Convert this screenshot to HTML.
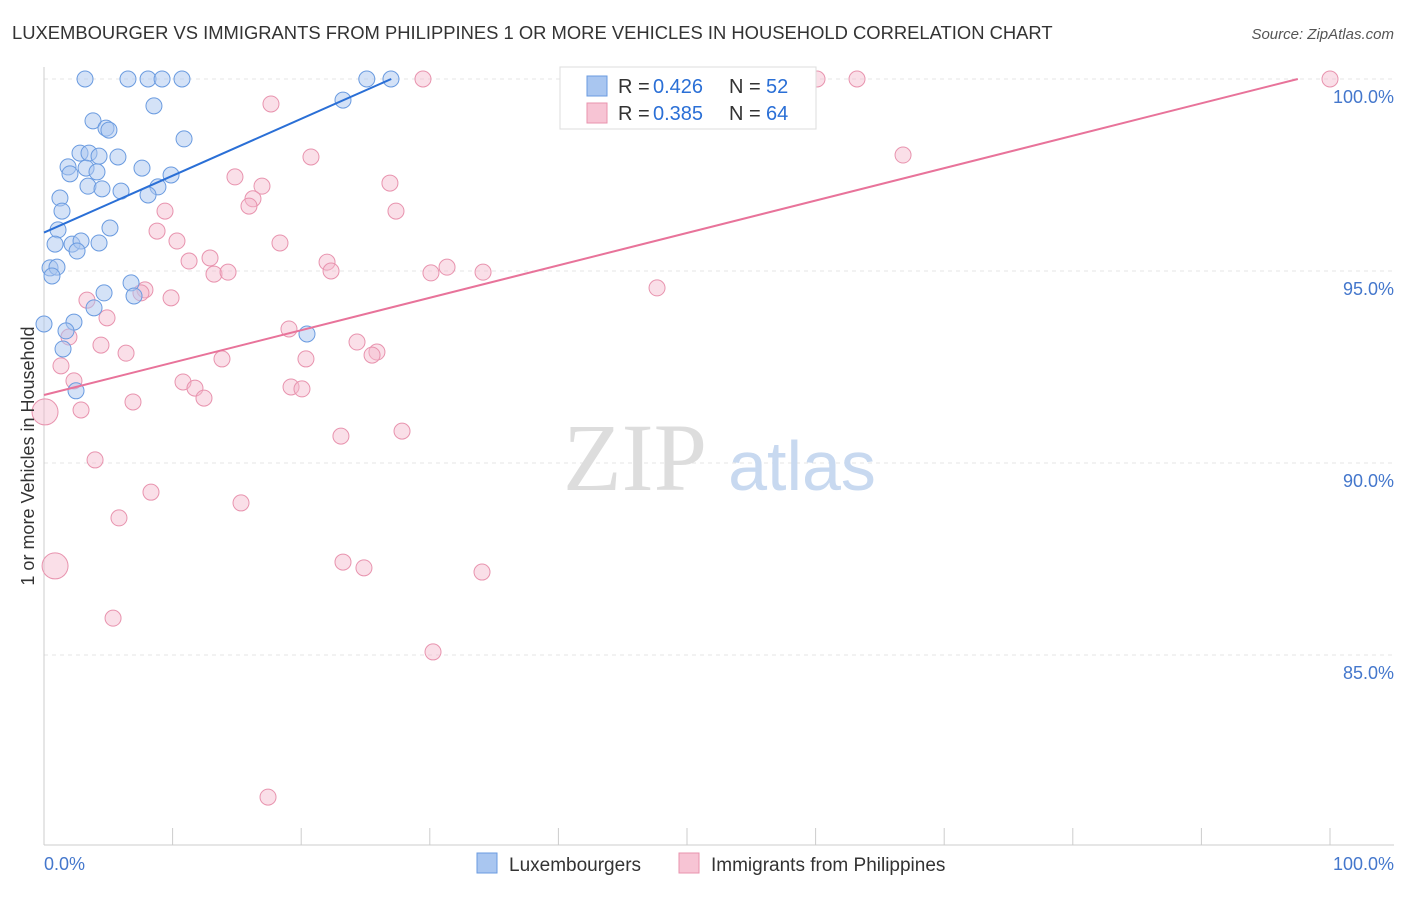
<!DOCTYPE html>
<html><head><meta charset="utf-8"><style>
body{margin:0;background:#fff;font-family:"Liberation Sans",sans-serif}
</style></head><body>
<svg width="1406" height="892" xmlns="http://www.w3.org/2000/svg" font-family="Liberation Sans, sans-serif">
<text x="12" y="39" font-size="18.4" fill="#333">LUXEMBOURGER VS IMMIGRANTS FROM PHILIPPINES 1 OR MORE VEHICLES IN HOUSEHOLD CORRELATION CHART</text>
<text x="1394" y="39" font-size="15" fill="#555" font-style="italic" text-anchor="end">Source: ZipAtlas.com</text>
<g id="grid"></g>
<text x="635" y="490" font-size="96" fill="#ddd" font-family="Liberation Serif, serif" text-anchor="middle">ZIP</text>
<text x="802" y="490" font-size="70" fill="#c8d9f0" text-anchor="middle">atlas</text>
<g id="pts"></g>
<text transform="translate(34,456) rotate(-90)" font-size="18" fill="#333" text-anchor="middle">1 or more Vehicles in Household</text>
<text x="44" y="870" font-size="18" fill="#4477cc">0.0%</text>
<text x="1394" y="870" font-size="18" fill="#4477cc" text-anchor="end">100.0%</text>
<g>
<rect x="560" y="67" width="256" height="62" fill="#fff" stroke="#ddd"/>
<rect x="587" y="76" width="20" height="20" fill="#a9c6f0" stroke="#6a9be0"/>
<text x="618" y="93" font-size="20" fill="#333">R =</text>
<text x="653" y="93" font-size="20" fill="#2a6fd6">0.426</text>
<text x="729" y="93" font-size="20" fill="#333">N =</text>
<text x="766" y="93" font-size="20" fill="#2a6fd6">52</text>
<rect x="587" y="103" width="20" height="20" fill="#f7c4d4" stroke="#e893ae"/>
<text x="618" y="120" font-size="20" fill="#333">R =</text>
<text x="653" y="120" font-size="20" fill="#2a6fd6">0.385</text>
<text x="729" y="120" font-size="20" fill="#333">N =</text>
<text x="766" y="120" font-size="20" fill="#2a6fd6">64</text>
</g>
<g>
<rect x="477" y="853" width="20" height="20" fill="#a9c6f0" stroke="#6a9be0"/>
<text x="509" y="871" font-size="19" fill="#333">Luxembourgers</text>
<rect x="679" y="853" width="20" height="20" fill="#f7c4d4" stroke="#e893ae"/>
<text x="711" y="871" font-size="19" fill="#333">Immigrants from Philippines</text>
</g>
</svg>
<script>
const yTicks=[100,95,90,85];
const blueX=[3.19,6.53,8.09,9.18,10.73,25.1,26.98,8.55,23.25,3.81,4.82,5.05,10.89,2.8,3.5,4.28,5.75,1.87,3.27,7.62,2.02,4.12,9.88,3.42,4.51,5.99,8.86,8.09,1.24,1.4,5.13,1.09,0.86,2.18,2.88,4.28,2.57,0.47,1.01,0.62,6.77,4.67,7.0,3.89,0,2.33,1.71,1.48,20.45,2.49];
const blueY=[100,100,100,100,100,100,100,99.3,99.45,98.91,98.72,98.67,98.44,98.07,98.07,97.99,97.97,97.71,97.68,97.68,97.53,97.58,97.5,97.21,97.14,97.08,97.19,96.98,96.9,96.56,96.12,96.07,95.7,95.7,95.78,95.73,95.52,95.08,95.1,94.87,94.69,94.43,94.35,94.04,93.62,93.67,93.44,92.97,93.36,91.88];
const pinkX=[29.47,60.11,63.22,100,17.65,20.76,66.8,14.85,16.95,26.9,16.25,15.94,27.37,9.41,8.79,10.34,18.35,11.28,12.91,22.01,22.32,13.22,14.31,30.09,31.34,34.14,47.67,7.85,7.54,3.34,9.88,4.9,1.94,19.05,4.43,24.34,6.38,25.89,25.51,13.84,20.37,1.32,10.81,2.33,11.74,19.21,20.06,12.44,6.92,2.88,0.08,23.09,27.84,3.97,8.32,15.32,5.83,0.86,23.25,24.88,34.06,5.37,30.25,17.42];
const pinkY=[100,100,100,100,99.35,97.97,98.02,97.45,97.21,97.29,96.88,96.69,96.56,96.56,96.04,95.78,95.73,95.26,95.34,95.23,95.0,94.92,94.97,94.95,95.1,94.97,94.56,94.51,94.43,94.24,94.3,93.78,93.28,93.49,93.07,93.15,92.86,92.89,92.81,92.71,92.71,92.53,92.11,92.14,91.95,91.98,91.93,91.69,91.59,91.38,91.33,90.7,90.83,90.08,89.24,88.96,88.57,87.32,87.42,87.27,87.16,85.96,85.08,81.3];
const pinkBig=[50,57];
const blueLine=[[0,96.0],[27,100]];
const pinkLine=[[0,91.77],[97.5,100]];
const NS="http://www.w3.org/2000/svg";
const X=v=>44+v*12.86, Y=v=>79+(100-v)*38.4;
function mk(t,a,p){const e=document.createElementNS(NS,t);for(const k in a)e.setAttribute(k,a[k]);p.appendChild(e);return e;}
const g=document.getElementById('grid'), P=document.getElementById('pts');
yTicks.forEach(t=>{
 const l=mk('line',{x1:44,x2:1394,y1:Y(t),y2:Y(t),stroke:'#e6e6e6','stroke-dasharray':'4,4'},g);
 
 
 const tx=mk('text',{x:1394,y:Y(t)+24,'font-size':18,fill:'#4477cc','text-anchor':'end'},g);
 tx.textContent=t.toFixed(1)+'%';
 
 
});
const ax=mk('line',{x1:44,x2:44,y1:67,y2:845,stroke:'#ccc'},g);


const bx=mk('line',{x1:44,x2:1394,y1:845,y2:845,stroke:'#ccc'},g);


for(let i=0;i<=10;i++){const t=mk('line',{x1:X(i*10),x2:X(i*10),y1:828,y2:845,stroke:'#ccc'},g);
 
 }
pinkX.forEach((v,i)=>{const c=mk('circle',{cx:X(v),cy:Y(pinkY[i]),r:pinkBig.includes(i)?13:8,fill:'#f4b8cb','fill-opacity':0.45,stroke:'#e893ae','stroke-width':1},P);
 
 });
blueX.forEach((v,i)=>{const c=mk('circle',{cx:X(v),cy:Y(blueY[i]),r:8,fill:'#a9c6f0','fill-opacity':0.5,stroke:'#6a9be0','stroke-width':1},P);
 
 });
const bl=mk('line',{x1:X(blueLine[0][0]),y1:Y(blueLine[0][1]),x2:X(blueLine[1][0]),y2:Y(blueLine[1][1]),stroke:'#2a6fd6','stroke-width':2},P);


const pl=mk('line',{x1:X(pinkLine[0][0]),y1:Y(pinkLine[0][1]),x2:X(pinkLine[1][0]),y2:Y(pinkLine[1][1]),stroke:'#e8739a','stroke-width':2},P);


</script>
</body></html>
